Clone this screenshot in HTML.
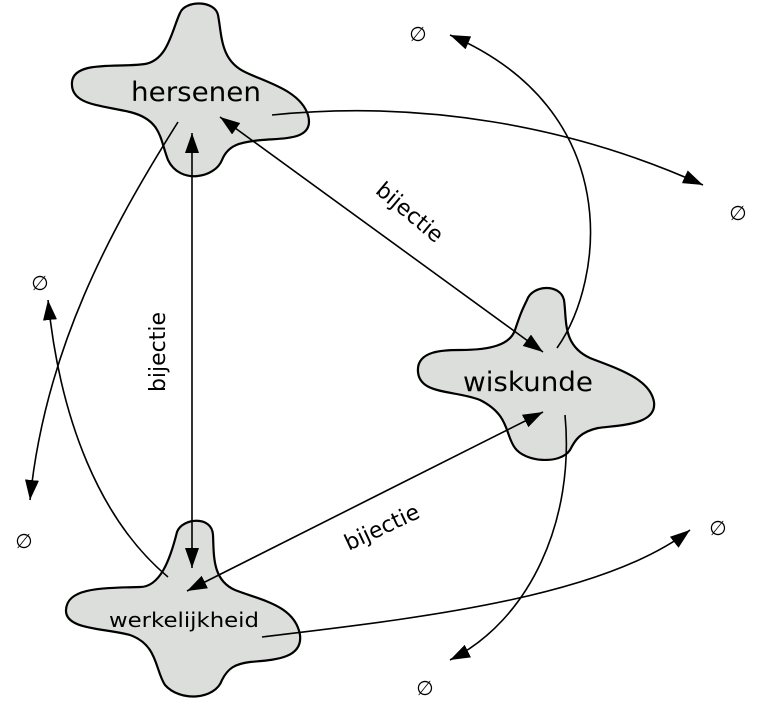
<!DOCTYPE html>
<html><head><style>body{margin:0;background:#fff}svg{display:block}</style></head><body>
<svg width="763" height="710" viewBox="0 0 763 710" xmlns="http://www.w3.org/2000/svg" font-family="'DejaVu Sans','Liberation Sans',sans-serif">
<defs>
<marker id="b" viewBox="0 0 20 14" refX="20" refY="7" markerWidth="20" markerHeight="14" markerUnits="userSpaceOnUse" orient="auto-start-reverse"><path d="M0,0 L20,7 L0,14 Z" fill="#000"/></marker></defs>
<g fill="#dcdedb" stroke="#000" stroke-width="2.2">
<path d="M180,13 C185,0 215,0 218,15 C222,35 220,60 245,72 C265,82 300,90 308,115 C315,140 285,138 262,140 C240,142 228,145 222,160 C215,178 180,185 168,160 C160,140 162,120 130,112 C100,105 70,105 72,82 C74,60 120,68 145,64 C168,60 172,30 180,13 Z"/>
<path d="M527,300 C532,285 560,283 564,300 C567,320 562,345 590,358 C615,368 650,378 654,402 C657,425 620,425 598,428 C580,432 575,440 570,450 C560,465 525,462 515,448 C505,435 510,415 480,400 C455,390 420,395 418,372 C416,350 445,350 460,350 C490,350 510,345 515,330 C520,315 522,310 527,300 Z"/>
<path d="M177,532 C182,518 212,515 213,535 C214,555 212,580 235,590 C260,600 295,605 300,635 C303,660 270,660 250,662 C235,664 228,668 222,680 C215,700 180,702 165,685 C155,670 158,645 130,635 C105,628 65,630 66,610 C67,588 100,588 140,587 C160,587 170,560 177,532 Z"/>
</g>
<g fill="none" stroke="#000" stroke-width="1.6">
<path d="M192,133 L192,568" marker-start="url(#b)" marker-end="url(#b)"/>
<path d="M220,117 L543,352" marker-start="url(#b)" marker-end="url(#b)"/>
<path d="M543,412 L187,591" marker-start="url(#b)" marker-end="url(#b)"/>
<path d="M272,115 C420,100 570,125 703,185" marker-end="url(#b)"/>
<path d="M557,348 C605,280 625,110 450,35" marker-end="url(#b)"/>
<path d="M565,415 C575,520 530,620 450,660" marker-end="url(#b)"/>
<path d="M262,637 C400,620 600,600 690,530" marker-end="url(#b)"/>
<path d="M168,577 C100,520 60,420 48,300" marker-end="url(#b)"/>
<path d="M178,122 C110,230 45,350 30,500" marker-end="url(#b)"/>
</g>
<g font-size="27" text-anchor="middle" fill="#000">
<text x="196" y="101" textLength="130" lengthAdjust="spacingAndGlyphs">hersenen</text>
<text x="528" y="391" textLength="130" lengthAdjust="spacingAndGlyphs">wiskunde</text>
<text x="184" y="627" font-size="20" textLength="150" lengthAdjust="spacingAndGlyphs">werkelijkheid</text>
</g>
<g font-size="22" text-anchor="middle" fill="#000">
<text transform="translate(405,218) rotate(40)">bijectie</text>
<text transform="translate(165,352) rotate(-90)">bijectie</text>
<text transform="translate(385,534) rotate(-25)">bijectie</text>
</g>
<g font-size="20" text-anchor="middle" fill="#000">
<text x="418" y="41">∅</text><text x="738" y="220">∅</text><text x="40" y="290">∅</text>
<text x="24" y="548">∅</text><text x="718" y="535">∅</text><text x="425" y="695">∅</text>
</g>
</svg>
</body></html>
